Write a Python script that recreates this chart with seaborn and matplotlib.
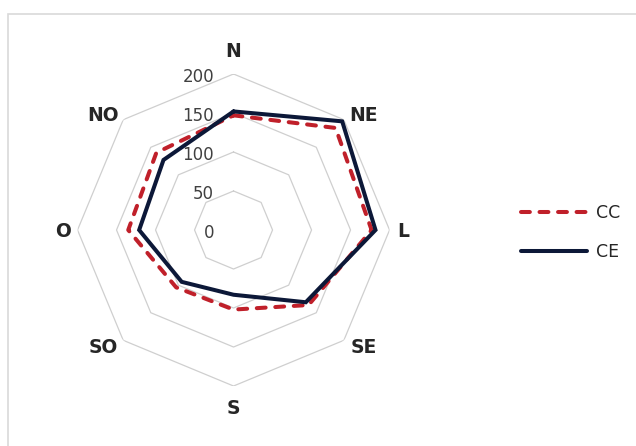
import numpy as np
import pandas as pd
import matplotlib
matplotlib.use("Agg")
import matplotlib.pyplot as plt
import seaborn as sns
from matplotlib.patches import Rectangle

# Wind-direction radar data
directions = ["N", "NE", "L", "SE", "S", "SO", "O", "NO"]
cc_values = [147, 185, 177, 136, 102, 104, 135, 140]
ce_values = [152, 197, 182, 131, 83, 94, 121, 127]
ring_values = [0, 50, 100, 150, 200]
ring_labels = ["0", "50", "100", "150", "200"]

sns.set_theme(style="white")
plt.rcParams["font.family"] = ["DejaVu Sans"]

CC_COLOR = "#C0202A"
CE_COLOR = "#0C1838"
GRID_COLOR = "#CFCFCF"

fig = plt.figure(figsize=(6.36, 4.46), dpi=100)
ax = fig.add_axes([0.1219, 0.1345, 0.4906, 0.6996], projection="polar")
ax.set_theta_zero_location("N")
ax.set_theta_direction(-1)
ax.grid(False)
ax.spines["polar"].set_visible(False)
ax.set_xticks([])
ax.set_yticks([])
ax.patch.set_alpha(0)

n = len(directions)
angles = np.arange(n) * 2 * np.pi / n
closed_angles = np.append(angles, 2 * np.pi)

# octagonal grid rings
for v in ring_values[1:]:
    ax.plot(closed_angles, [v] * (n + 1), color=GRID_COLOR, lw=0.9, zorder=1)

df = pd.DataFrame({
    "theta": np.concatenate([closed_angles, closed_angles]),
    "value": cc_values + cc_values[:1] + ce_values + ce_values[:1],
    "serie": ["CC"] * (n + 1) + ["CE"] * (n + 1),
})

sns.lineplot(data=df[df.serie == "CC"], x="theta", y="value", sort=False,
             estimator=None, ax=ax, color=CC_COLOR, lw=2.9,
             linestyle=(0, (2.2, 2.4)), dash_capstyle="round",
             label="CC", zorder=3)
sns.lineplot(data=df[df.serie == "CE"], x="theta", y="value", sort=False,
             estimator=None, ax=ax, color=CE_COLOR, lw=2.9,
             solid_joinstyle="miter", solid_capstyle="round",
             label="CE", zorder=4)
ax.set_ylim(0, 200)
ax.set_xlabel("")
ax.set_ylabel("")
handles, labels = ax.get_legend_handles_labels()
if ax.get_legend() is not None:
    ax.get_legend().remove()

# radial value labels
for v, lab in zip(ring_values, ring_labels):
    ax.annotate(lab, xy=(0, v), xytext=(-19.5, -3), textcoords="offset pixels",
                ha="right", va="center", fontsize=12, color="#404040",
                annotation_clip=False)

# direction labels
label_offsets = [(0, 22), (20, 4), (14, -1), (20, -7),
                 (0, -22), (-20, -7), (-14.5, -1), (-20, 4)]
for ang, d, off in zip(angles, directions, label_offsets):
    ax.annotate(d, xy=(ang, 200), xytext=off, textcoords="offset pixels",
                ha="center", va="center", fontsize=13.5, fontweight="bold",
                color="#262626", annotation_clip=False)

fig.legend(handles, labels, loc="upper left",
           bbox_to_anchor=(521 / 636, 1 - 204 / 446),
           frameon=False, fontsize=12.5, handlelength=3.8,
           handletextpad=0.5, labelspacing=1.2, borderpad=0,
           borderaxespad=0, labelcolor="#262626")

fig.add_artist(Rectangle((8 / 636, -0.05), 1.0, 1 - 14 / 446 + 0.05,
                         transform=fig.transFigure, fill=False,
                         ec="#D9D9D9", lw=1.2))

fig.savefig("out.png", dpi=100)
